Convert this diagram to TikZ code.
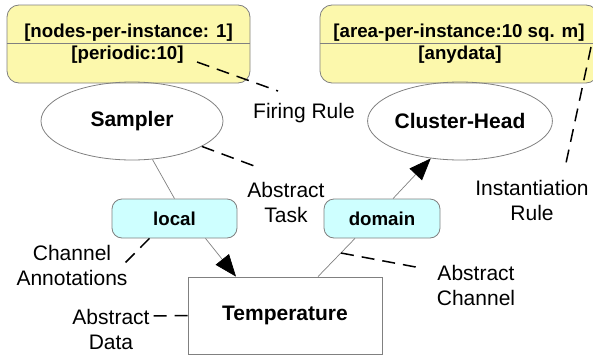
\documentclass[tikz,border=0pt]{standalone}
\usepackage{fontspec}
\setmainfont{Liberation Sans}
\usetikzlibrary{arrows.meta,shapes.geometric}

\definecolor{ruleyellow}{RGB}{252,248,172}
\definecolor{chancyan}{RGB}{206,255,255}
\definecolor{edgegray}{RGB}{128,128,128}

\newcommand\bigbold{\fontsize{21}{25}\selectfont\bfseries}
\newcommand\smallbold{\fontsize{18.7}{22}\selectfont\bfseries}
\newcommand\notefont{\fontsize{21}{25}\selectfont}

\tikzset{
  rulebox/.style={draw=edgegray, fill=ruleyellow, rounded corners=12pt, line width=0.8pt, inner sep=0pt},
  rulefont/.style={font=\smallbold, inner sep=0pt},
  chanbox/.style={draw=edgegray, fill=chancyan, rounded corners=10pt, line width=0.8pt, minimum height=39pt, inner sep=0pt, font=\smallbold},
  taskell/.style={draw=edgegray, ellipse, line width=0.8pt, minimum width=182pt, minimum height=78pt, inner sep=0pt, font=\bigbold},
  databox/.style={draw=edgegray, line width=0.8pt, minimum width=194pt, minimum height=77pt, inner sep=0pt, font=\bigbold},
  note/.style={font=\notefont, align=center, inner sep=0pt},
  link/.style={draw=edgegray, line width=0.7pt},
  flow/.style={link, -{Triangle[length=22pt,width=17pt,black]}},
  annot/.style={black, line width=1.5pt, dash pattern=on 13pt off 8pt}
}

\begin{document}
\begin{tikzpicture}[x=1pt, y=-1pt]
\useasboundingbox (0,0) rectangle (593,356);
\clip (0,0) rectangle (593,356);

% rule boxes
\node[rulebox, minimum width=243pt, minimum height=78pt] (srule) at (128.5,44) {};
\node[rulebox, minimum width=278pt, minimum height=78pt] (hrule) at (459,44) {};
\draw[link] (srule.west |- 0,43) -- (srule.east |- 0,43);
\draw[link] (hrule.west |- 0,43) -- (hrule.east |- 0,43);
\node[rulefont, anchor=base] (srule1) at (128.5,37) {[nodes-per-instance: 1]};
\node[rulefont, anchor=base] (srule2) at (127.5,59) {[periodic:10]};
\node[rulefont, anchor=base] (hrule1) at (459,37) {[area-per-instance:10 sq. m]};
\node[rulefont, anchor=base] (hrule2) at (460,59) {[anydata]};

% tasks, channels, data
\node[taskell] (sampler) at (132,121) {Sampler};
\node[taskell] (head) at (460,121) {Cluster-Head};
\node[chanbox, minimum width=125pt] (local) at (174.5,218.5) {local};
\node[chanbox, minimum width=116pt] (domain) at (382,218.5) {domain};
\node[databox] (temp) at (285,315.5) {Temperature};

\draw[link] (sampler.-62) -- (local.north);
\draw[flow] ([xshift=31pt]local.south) -- ([xshift=-49pt]temp.north);
\draw[link] ([xshift=33pt]temp.north) -- ([xshift=-27pt]domain.south);
\draw[flow] ([xshift=11pt]domain.north) -- (head.-128);

% annotations
\node[note, anchor=base] (firelbl) at (304,118) {Firing Rule};
\node[note] (tasklbl) at (286,202) {Abstract\\Task};
\node[note] (instlbl) at (532,200) {Instantiation\\Rule};
\node[note] (chanlbl) at (476,285) {Abstract\\Channel};
\node[note] (annotlbl) at (72,265) {Channel\\Annotations};
\node[note] (datalbl) at (111,329) {Abstract\\Data};

\coordinate (firestart) at (197,62);
\coordinate (fireend) at (278,91);
\coordinate (taskend) at (257,167);
\coordinate (inststart) at (591,47);
\coordinate (instend) at (566,163);
\coordinate (chanstart) at (341,253);
\coordinate (chanend) at (421,268);
\coordinate (annotend) at (123,265);
\coordinate (dataend) at (152,316);

\draw[annot] (firestart) -- (fireend);
\draw[annot] (sampler.-20) -- (taskend);
\draw[annot] (inststart) -- (instend);
\draw[annot] (chanstart) -- (chanend);
\draw[annot] ([xshift=-25pt]local.south) -- (annotend);
\draw[annot] (temp.west) -- (dataend);

\end{tikzpicture}
\end{document}
